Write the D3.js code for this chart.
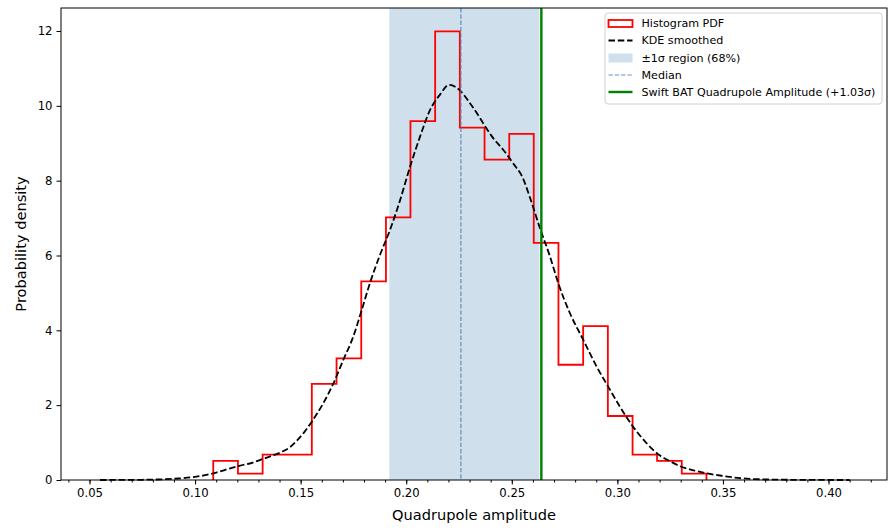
<!DOCTYPE html>
<html>
<head>
<meta charset="utf-8">
<script src="https://cdn.jsdelivr.net/npm/d3@7"></script>
<style>
  body { margin: 0; background: #fff; }
  text { font-family: "DejaVu Sans", sans-serif; fill: #000; }
</style>
</head>
<body>
<div id="chart"></div>
<script>
(function() {
  var margin = { top: 8, left: 61, right: 1, bottom: 49 },
    width = 888 - margin.left - margin.right,
    height = 529 - margin.top - margin.bottom;

  // histogram bin edges (21) and density per bin (20)
  var binEdges = [0.1086, 0.1203, 0.1320, 0.1436, 0.1553, 0.1670, 0.1787, 0.1904, 0.2020, 0.2137,
                  0.2254, 0.2371, 0.2488, 0.2604, 0.2721, 0.2838, 0.2955, 0.3072, 0.3188, 0.3305, 0.3422];
  var binDensity = [0.51, 0.17, 0.68, 0.68, 2.57, 3.25, 5.31, 7.02, 9.59, 11.99,
                    9.42, 8.56, 9.25, 6.34, 3.08, 4.11, 1.71, 0.68, 0.51, 0.17];

  // KDE curve
  var kdeX = [0.055, 0.065, 0.075, 0.085, 0.092, 0.098, 0.103, 0.11, 0.116, 0.121, 0.127, 0.132, 0.137,
              0.141, 0.145, 0.148, 0.152, 0.1555, 0.1607, 0.1655, 0.1702, 0.1749, 0.1789, 0.1828, 0.1876,
              0.1923, 0.1971, 0.2018, 0.2065, 0.2113, 0.216, 0.2202, 0.2235, 0.226, 0.2302, 0.2335, 0.2365,
              0.241, 0.246, 0.2507, 0.2554, 0.2586, 0.2634, 0.2681, 0.272, 0.2776, 0.2839, 0.2902, 0.2957,
              0.3012, 0.3075, 0.3139, 0.32, 0.325, 0.33, 0.336, 0.342, 0.3486, 0.358, 0.365, 0.375, 0.39, 0.41];
  var kdeY = [0.0, 0.002, 0.006, 0.02, 0.04, 0.07, 0.11, 0.2, 0.3, 0.38, 0.46, 0.56, 0.66,
              0.75, 0.88, 1.04, 1.3, 1.58, 2.05, 2.58, 3.21, 3.83, 4.54, 5.26, 6.02,
              6.68, 7.48, 8.37, 9.17, 9.89, 10.3, 10.56, 10.5, 10.38, 10.07, 9.8, 9.53,
              9.15, 8.82, 8.46, 8.05, 7.55, 6.72, 5.97, 5.26, 4.45, 3.74, 3.03, 2.49,
              1.96, 1.42, 0.98, 0.66, 0.5, 0.36, 0.26, 0.18, 0.12, 0.05, 0.025, 0.01, 0.003, 0.0];

  var sigmaRange = [0.1920, 0.2631];
  var medianValue = 0.2259;
  var swiftValue = 0.2640;

  var xTicks = [0.05, 0.10, 0.15, 0.20, 0.25, 0.30, 0.35, 0.40];
  var yTicks = [0, 2, 4, 6, 8, 10, 12];

  var legendLabels = ["Histogram PDF", "KDE smoothed", "\u00b11\u03c3 region (68%)", "Median",
                      "Swift BAT Quadrupole Amplitude (+1.03\u03c3)"];

  var svg = d3.select("#chart")
        .append("svg")
        .attr("width", width + margin.left + margin.right)
        .attr("height", height + margin.top + margin.bottom)
        .append("g")
        .attr("transform", "translate(" + margin.left + "," + margin.top + ")");

  var xPositionScale = d3.scaleLinear().domain([0.0365, 0.4277]).range([0, width]);
  var yPositionScale = d3.scaleLinear().domain([0, 12.615]).range([height, 0]);

  var plot = svg.append("g");

  // shaded ±1σ band
  plot.append("rect")
    .attr("x", xPositionScale(sigmaRange[0]))
    .attr("y", 0)
    .attr("width", xPositionScale(sigmaRange[1]) - xPositionScale(sigmaRange[0]))
    .attr("height", height)
    .attr("fill", "steelblue")
    .attr("fill-opacity", 0.26);

  // step histogram outline
  var steps = [[binEdges[0], 0]];
  binDensity.forEach(function(d, i) {
    steps.push([binEdges[i], d]);
    steps.push([binEdges[i + 1], d]);
  });
  steps.push([binEdges[binEdges.length - 1], 0]);

  var line = d3.line()
    .x(function(d) { return xPositionScale(d[0]) })
    .y(function(d) { return yPositionScale(d[1]) });

  plot.append("path")
    .datum(steps)
    .attr("d", line)
    .attr("fill", "none")
    .attr("stroke", "#ff0000")
    .attr("stroke-width", 1.8);

  // KDE
  var kdePoints = kdeX.map(function(x, i) { return [x, kdeY[i]] });
  plot.append("path")
    .datum(kdePoints)
    .attr("d", line.curve(d3.curveMonotoneX))
    .attr("fill", "none")
    .attr("stroke", "#000")
    .attr("stroke-width", 1.8)
    .attr("stroke-dasharray", "6.5,2.8");

  // median
  plot.append("line")
    .attr("x1", xPositionScale(medianValue)).attr("x2", xPositionScale(medianValue))
    .attr("y1", 0).attr("y2", height)
    .attr("stroke", "#4a82b8")
    .attr("stroke-opacity", 0.85)
    .attr("stroke-width", 1.2)
    .attr("stroke-dasharray", "4.4,1.9");

  // Swift BAT value
  plot.append("line")
    .attr("x1", xPositionScale(swiftValue)).attr("x2", xPositionScale(swiftValue))
    .attr("y1", 0).attr("y2", height)
    .attr("stroke", "#008000")
    .attr("stroke-width", 2.4);

  // axes
  var xAxis = d3.axisBottom(xPositionScale)
    .tickValues(xTicks)
    .tickFormat(d3.format(".2f"))
    .tickSizeOuter(0)
    .tickSize(4.5)
    .tickPadding(4);
  svg.append("g")
    .attr("class", "axis x-axis")
    .attr("transform", "translate(0," + height + ")")
    .call(xAxis)
    .call(function(g) { g.select(".domain").remove() })
    .selectAll("text")
    .style("font-family", "DejaVu Sans")
    .style("font-size", "11.7px");

  var minorTicks = d3.range(4, 43).map(function(i) { return i / 100 })
    .filter(function(v) { return v >= 0.0365 && v <= 0.4277 });
  svg.append("g")
    .attr("class", "axis x-minor")
    .attr("transform", "translate(0," + height + ")")
    .call(d3.axisBottom(xPositionScale).tickValues(minorTicks).tickSize(2.5).tickFormat(""))
    .call(function(g) { g.select(".domain").remove() });

  var yAxis = d3.axisLeft(yPositionScale)
    .tickValues(yTicks)
    .tickSizeOuter(0)
    .tickSize(4.5)
    .tickPadding(4);
  svg.append("g")
    .attr("class", "axis y-axis")
    .call(yAxis)
    .call(function(g) { g.select(".domain").remove() })
    .selectAll("text")
    .style("font-family", "DejaVu Sans")
    .style("font-size", "11.7px");

  // frame
  svg.append("rect")
    .attr("x", 0).attr("y", 0)
    .attr("width", width).attr("height", height)
    .attr("fill", "none")
    .attr("stroke", "#000")
    .attr("stroke-width", 1);

  // axis titles
  svg.append("text")
    .attr("x", width / 2)
    .attr("y", height + 40)
    .attr("text-anchor", "middle")
    .style("font-size", "14.6px")
    .text("Quadrupole amplitude");

  svg.append("text")
    .attr("transform", "translate(" + (-35) + "," + (height / 2) + ") rotate(-90)")
    .attr("text-anchor", "middle")
    .style("font-size", "14.6px")
    .text("Probability density");

  // legend
  var legend = svg.append("g")
    .attr("transform", "translate(" + (605 - margin.left) + "," + (13 - margin.top) + ")");

  legend.append("rect")
    .attr("width", 277).attr("height", 91)
    .attr("rx", 3)
    .attr("fill", "#fff")
    .attr("fill-opacity", 0.8)
    .attr("stroke", "#d0d0d0");

  var rowY = [10.5, 27.5, 45, 62, 79];
  var handleX = 3.5, handleW = 24;

  legend.append("rect")
    .attr("x", handleX).attr("y", rowY[0] - 3.5)
    .attr("width", handleW).attr("height", 7)
    .attr("fill", "none").attr("stroke", "#ff0000").attr("stroke-width", 1.8);

  legend.append("line")
    .attr("x1", handleX).attr("x2", handleX + handleW)
    .attr("y1", rowY[1]).attr("y2", rowY[1])
    .attr("stroke", "#000").attr("stroke-width", 1.8).attr("stroke-dasharray", "6.5,2.8");

  legend.append("rect")
    .attr("x", handleX).attr("y", rowY[2] - 4.5)
    .attr("width", handleW).attr("height", 9)
    .attr("fill", "steelblue").attr("fill-opacity", 0.26);

  legend.append("line")
    .attr("x1", handleX).attr("x2", handleX + handleW)
    .attr("y1", rowY[3]).attr("y2", rowY[3])
    .attr("stroke", "#4a82b8").attr("stroke-opacity", 0.85)
    .attr("stroke-width", 1.2).attr("stroke-dasharray", "4.4,1.9");

  legend.append("line")
    .attr("x1", handleX).attr("x2", handleX + handleW)
    .attr("y1", rowY[4]).attr("y2", rowY[4])
    .attr("stroke", "#008000").attr("stroke-width", 2.4);

  legend.selectAll("text.label")
    .data(legendLabels)
    .enter().append("text")
    .attr("class", "label")
    .attr("x", 36.5)
    .attr("y", function(d, i) { return rowY[i] })
    .attr("dy", "0.36em")
    .style("font-size", "11.1px")
    .text(function(d) { return d });

})();
</script>
</body>
</html>
